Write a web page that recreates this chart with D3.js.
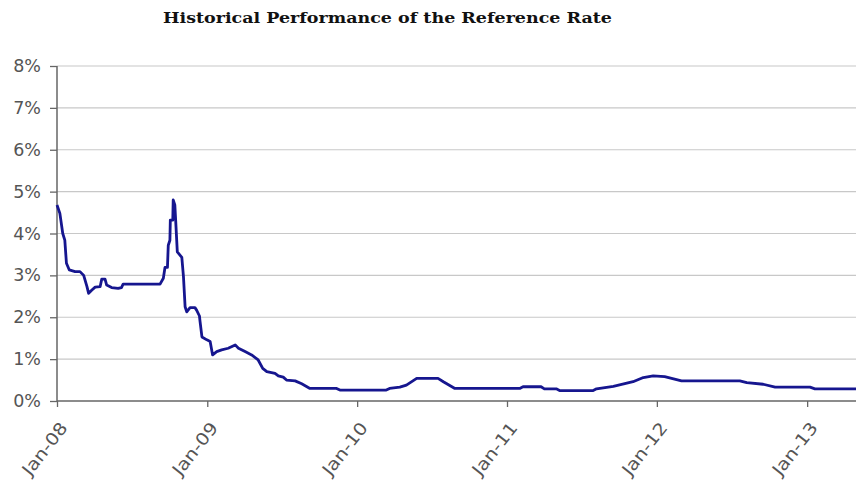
<!DOCTYPE html>
<html><head><meta charset="utf-8">
<script src="https://cdn.jsdelivr.net/npm/d3@7"></script>
<style>html,body{margin:0;padding:0;background:#fff;}svg{display:block;}</style>
</head><body>
<svg id="chart" width="856" height="480"></svg>
<script>
const title = "Historical Performance of the Reference Rate";
const dates = ["2008-01-01","2008-01-08","2008-01-15","2008-01-20","2008-01-24","2008-01-31","2008-02-14","2008-02-26","2008-03-06","2008-03-14","2008-03-18","2008-03-26","2008-04-03","2008-04-15","2008-04-19","2008-04-27","2008-05-01","2008-05-13","2008-05-29","2008-06-06","2008-06-10","2008-09-08","2008-09-16","2008-09-20","2008-09-26","2008-09-28","2008-10-02","2008-10-03","2008-10-09","2008-10-10","2008-10-14","2008-10-16","2008-10-20","2008-10-31","2008-11-04","2008-11-08","2008-11-12","2008-11-20","2008-12-02","2008-12-06","2008-12-13","2008-12-14","2008-12-19","2008-12-31","2009-01-08","2009-01-14","2009-01-24","2009-02-05","2009-02-21","2009-03-10","2009-03-18","2009-04-03","2009-04-19","2009-05-05","2009-05-16","2009-05-26","2009-06-15","2009-06-23","2009-07-05","2009-07-13","2009-08-03","2009-08-19","2009-09-08","2009-11-12","2009-11-20","2010-03-13","2010-03-21","2010-04-15","2010-05-01","2010-05-26","2010-07-17","2010-07-30","2010-08-27","2011-02-01","2011-02-09","2011-03-25","2011-04-02","2011-05-01","2011-05-09","2011-07-30","2011-08-07","2011-09-17","2011-11-04","2011-11-29","2011-12-23","2012-01-20","2012-03-01","2012-07-21","2012-08-07","2012-09-16","2012-10-15","2013-01-08","2013-01-20","2013-04-30"];
const rates = [4.68,4.48,4.00,3.84,3.29,3.13,3.09,3.09,3.00,2.73,2.57,2.65,2.72,2.73,2.91,2.91,2.77,2.71,2.69,2.71,2.79,2.79,2.93,3.19,3.19,3.72,3.84,4.32,4.32,4.80,4.68,4.32,3.56,3.43,2.97,2.25,2.13,2.23,2.23,2.17,2.03,1.93,1.53,1.46,1.42,1.10,1.18,1.22,1.26,1.34,1.26,1.18,1.10,0.98,0.78,0.70,0.66,0.60,0.57,0.50,0.48,0.41,0.30,0.30,0.26,0.26,0.30,0.33,0.38,0.54,0.54,0.46,0.30,0.30,0.34,0.34,0.29,0.29,0.25,0.25,0.29,0.35,0.46,0.56,0.60,0.58,0.48,0.48,0.44,0.40,0.33,0.33,0.29,0.29];
const yTicks = [0,1,2,3,4,5,6,7,8];
const xTickDates = ["2008-01-01","2009-01-01","2010-01-01","2011-01-01","2012-01-01","2013-01-01"];

const parse = d3.timeParse("%Y-%m-%d");
const data = dates.map((d,i)=>({date:parse(d), v:rates[i]}));

const svg = d3.select("#chart");
const x = d3.scaleTime().domain([parse("2008-01-01"), parse("2013-04-30")]).range([57, 856]);
const y = d3.scaleLinear().domain([0, 8]).range([401, 66]);

// title
svg.append("text").attr("x", 387.5).attr("y", 23).attr("text-anchor","middle")
  .attr("font-family","'DejaVu Serif', serif").attr("font-weight","bold").attr("font-size",15)
  .attr("fill","#111").attr("textLength", 449).attr("lengthAdjust","spacingAndGlyphs").text(title);

// gridlines
svg.append("g").selectAll("line").data(yTicks.filter(d=>d>0)).join("line")
  .attr("x1",57).attr("x2",856).attr("y1",d=>y(d)).attr("y2",d=>y(d))
  .attr("stroke","#c8c8c8").attr("stroke-width",1.2);

// y axis
const yAxis = d3.axisLeft(y).tickValues(yTicks).tickFormat(d=>d+"%").tickSize(7).tickPadding(9);
const gy = svg.append("g").attr("transform","translate(57,0)").call(yAxis);
gy.select(".domain").attr("stroke","#666").attr("stroke-width",1.5).attr("d","M0,66V401");
gy.selectAll(".tick line").attr("stroke","#666").attr("stroke-width",1.3);
gy.selectAll(".tick text").attr("font-family","'DejaVu Sans', Verdana, sans-serif").attr("font-size",17.5).attr("fill","#555");

// x axis
const xAxis = d3.axisBottom(x).tickValues(xTickDates.map(parse)).tickFormat(d3.timeFormat("%b-%y")).tickSize(6);
const gx = svg.append("g").attr("transform","translate(0,401)").call(xAxis);
gx.select(".domain").attr("stroke","#666").attr("stroke-width",1.5).attr("d","M57,0H856");
gx.selectAll(".tick line").attr("stroke","#666").attr("stroke-width",1.3);
gx.selectAll(".tick text").attr("font-family","'DejaVu Sans', Verdana, sans-serif").attr("font-size",17).attr("fill","#555")
  .attr("text-anchor","end").attr("dy",0).attr("y",0)
  .attr("textLength",62).attr("lengthAdjust","spacingAndGlyphs")
  .attr("transform","translate(11,27) rotate(-52)");

// line
svg.append("path").datum(data)
  .attr("d", d3.line().x(d=>x(d.date)).y(d=>y(d.v)))
  .attr("fill","none").attr("stroke","#16168f").attr("stroke-width",2.8).attr("stroke-linejoin","round");
</script>
</body></html>
